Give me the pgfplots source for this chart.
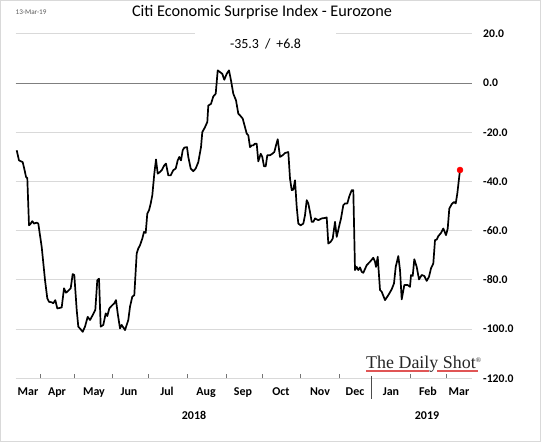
\documentclass[border=0pt]{standalone}
\usepackage{pgfplots}
\pgfplotsset{compat=1.18}
\usepackage{fontspec}
\setmainfont{Carlito}
\newfontfamily\dsfont{Liberation Serif}
\definecolor{gridgray}{HTML}{D9D9D9}
\definecolor{zerogray}{HTML}{7F7F7F}
\definecolor{dsred}{HTML}{E05555}
\begin{document}
\begin{tikzpicture}[x=1bp,y=1bp]
\useasboundingbox (0,0) rectangle (541,442);
\fill[white] (0,0) rectangle (541,442);
\draw[gray!30, line width=1bp] (0.5,0.5) rectangle (540.5,441.5);
\begin{axis}[
  at={(15.5bp,63.7bp)}, anchor=south west,
  scale only axis, width=456.5bp, height=344.3bp,
  xmin=15.5, xmax=472, ymin=-120, ymax=20,
  axis line style={draw=none},
  clip=false,
  ytick={-120,-100,-80,-60,-40,-20,0,20},
  yticklabels={-120.0,-100.0,-80.0,-60.0,-40.0,-20.0,0.0,20.0},
  yticklabel pos=right,
  ytick style={draw=none},
  yticklabel style={anchor=west, inner sep=0pt, xshift=11bp, font=\fontsize{11.7}{13}\selectfont\bfseries},
  ymajorgrids,
  major grid style={gridgray, line width=1bp},
  xtick={28,57,94,129,167,206,243,281,320,355,391,428,459},
  xticklabels={Mar,Apr,May,Jun,Jul,Aug,Sep,Oct,Nov,Dec,Jan,Feb,Mar},
  major x tick style={draw=none},
  minor xtick={40.7,74.5,112.4,148.3,187.2,225.9,262,300.7,339.7,410.3,445.9},
  minor tick length=4bp,
  minor x tick style={black!55, line width=0.8bp},
  xtick pos=left,
  xticklabel style={anchor=base, yshift=-16.9bp, font=\fontsize{12}{13}\selectfont\bfseries},
]
\draw[zerogray, line width=1.3bp] (axis cs:15.5,0) -- (axis cs:472,0);
\addplot[black, line width=1.7bp, line join=round, mark=none] coordinates {
(16.7,-27.3)(19,-31.4)(22.7,-32.1)(25,-36.1)(26,-38.1)(27.3,-38.6)(29,-57.8)(30.7,-57.1)
(32.3,-56.1)(34,-57.1)(36.7,-56.7)(38.3,-57.1)(41.7,-66.6)(45,-80)(47.3,-87.5)(49,-88.9)
(51.7,-89.1)(53.3,-89.5)(55.3,-88.2)(57.3,-91.6)(61.7,-91.2)(64,-83.4)(66,-85.2)(68.3,-84.4)
(70.7,-83.4)(72.7,-77.6)(74.3,-78)(76.7,-92.2)(78.3,-99)(80.7,-100.1)(82.7,-101.1)(85,-99)
(87.7,-95)(90,-96.3)(92.7,-94.3)(95.3,-92.2)(97.3,-80.1)(99,-79.5)(100.7,-99)(103.3,-98.3)
(105.7,-93.6)(107.3,-94.7)(109.3,-91.6)(111.7,-90.5)(114.3,-89.5)(116,-88.2)(117.7,-93.6)
(120,-99.7)(121.7,-98.3)(125,-100.4)(128.3,-96.3)(130,-90.9)(132.3,-86.8)(134.3,-86.2)
(136.7,-69.2)(138.3,-67.2)(140,-65.9)(142.3,-63.2)(144,-60.5)(145.7,-60.9)(147.3,-53)
(149,-51.7)(150.7,-48.9)(152.3,-45.6)(154.3,-36.8)(156,-31)(157.7,-36.8)(160,-36.1)
(161.7,-35.4)(164.3,-33.4)(166,-32.7)(168.3,-37.5)(170.7,-37.5)(173.3,-35.4)(175.7,-34.7)
(177.7,-31.4)(179.3,-30)(181,-31.4)(182.7,-27.3)(184.3,-26.2)(187,-26)(188.3,-30)
(190.7,-34.7)(193.3,-35.8)(195.7,-34.7)(198.3,-32.1)(201,-26)(202.3,-19.9)(205,-17.9)
(207.3,-15.8)(208.3,-9.1)(211,-8.4)(213.3,-5.4)(215.7,-4.3)(217.7,5.2)(220,4.5)(222.3,3.8)
(224.3,1.4)(226.7,3.8)(229,5.2)(231,1.1)(233.3,-4.3)(236,-7)(238.3,-12.4)(240,-13.1)
(242.7,-14.4)(245,-17.9)(246.7,-20.5)(248.3,-21.2)(250,-26)(251.7,-25.3)(253.3,-25.3)
(255,-24.6)(256.7,-24.6)(258.3,-31.8)(260.7,-28.7)(262.3,-30)(264,-33.8)(265.7,-33.8)
(267.3,-29.3)(270,-29.3)(272.3,-28.7)(274.3,-28)(276,-25.3)(277.7,-22.8)(280,-30)
(282.7,-29.3)(285,-28.4)(288.3,-28)(290,-38.8)(291.7,-43.5)(293.3,-43.3)(295,-39.5)
(296.7,-50.3)(298.3,-57.1)(300.7,-57.8)(303.3,-57.1)(305,-53.7)(306.7,-47.6)(308.3,-48.9)
(310,-52.4)(311.7,-56.4)(313.3,-56.4)(315,-55)(318.3,-55.7)(321.7,-55)(325,-54.8)
(326.7,-54.6)(328.3,-65.2)(330.7,-64.5)(332.7,-63.2)(335,-56.4)(336.7,-62.5)(339,-58.4)
(341,-55)(343.3,-49.6)(345,-48.9)(347.3,-48.9)(349.3,-46)(351.7,-43.5)(353.3,-43.5)
(355,-76)(356.7,-74.7)(358.3,-76)(360,-74.9)(361.7,-76.7)(363.3,-77.1)(366.7,-74)
(370,-72.6)(373.3,-71)(375,-72.6)(376,-74.7)(377.7,-70.6)(380,-84.1)(381.7,-84.8)
(385,-88.2)(388.3,-86.2)(391.7,-83.8)(394,-81.4)(395.7,-74.7)(398.3,-70.3)(400,-76)
(401.7,-87.9)(404.3,-82.1)(407.7,-82.1)(410,-82.8)(411,-78)(412.7,-78.4)(414.3,-71.6)
(416.7,-74.7)(419,-79.8)(421.7,-78)(424.3,-78.4)(426.7,-80.4)(429,-78.7)(431,-75.3)
(433.3,-73.3)(435,-63.8)(436.7,-63.6)(438.3,-62.2)(441,-60.9)(443.3,-59.1)(446,-61.8)
(447.7,-59.1)(449.3,-51)(451.7,-49.2)(454,-48.3)(455.7,-48.9)(457.3,-44.9)(459,-38.8)
(460,-35.3)
};
\addplot[only marks, mark=*, mark size=3bp, color=red, mark options={fill=red, draw=red}] coordinates {(460,-35.3)};
\end{axis}
% title and annotations (image y measured from top: y_pic = 442 - y_img)
\node[anchor=base west, inner sep=0pt, font=\fontsize{7.2}{8}\selectfont, text=black!65] at (15.5,427.7) {13-Mar-19};
\node[anchor=base, inner sep=0pt, font=\fontsize{16.3}{18}\selectfont] at (262,425) {Citi Economic Surprise Index - Eurozone};
\fill[white] (195,413) rectangle (336,384);
\node[anchor=base, inner sep=0pt, font=\fontsize{14}{16}\selectfont] at (265.5,393) {-35.3\hspace{6bp}/\hspace{6bp}+6.8};
\node[anchor=base, inner sep=0pt, font=\fontsize{12}{13}\selectfont\bfseries] at (194,22) {2018};
\node[anchor=base, inner sep=0pt, font=\fontsize{12}{13}\selectfont\bfseries] at (427,22) {2019};
\draw[black!70, line width=1bp] (371.7,66) -- (371.7,43);
\node[anchor=base west, inner sep=0pt, font=\dsfont\fontsize{18}{20}\selectfont, text=black!85] at (366,73.4) {The Daily Shot\raisebox{6bp}{\fontsize{7}{7}\selectfont ®}};
\draw[dsred, line width=2bp] (366,70.5) -- (429,70.5);
\draw[dsred, line width=2bp] (437,70.5) -- (478,70.5);
\end{tikzpicture}
\end{document}
